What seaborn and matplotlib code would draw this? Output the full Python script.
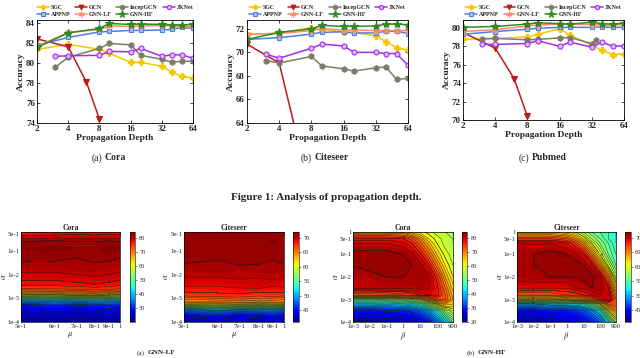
import numpy as np
import matplotlib
matplotlib.use("Agg")
import matplotlib.pyplot as plt
import seaborn as sns

sns.set_theme(style="white")
plt.rcParams["font.family"] = ["Liberation Serif", "DejaVu Serif"]
plt.rcParams["mathtext.fontset"] = "stix"
plt.rcParams["axes.edgecolor"] = "black"
plt.rcParams["axes.linewidth"] = 0.6

# ---------------- data: propagation depth ----------------
depth = [2, 4, 8, 10, 16, 20, 32, 40, 50, 64]
depth_gcn = [2, 4, 6, 8]
depth_deep = [3, 4, 8, 10, 16, 20, 32, 40, 50, 64]
depth_incep_pubmed = [3, 4, 8, 10, 16, 20, 32, 35]

methods = ["SGC", "GCN", "IncepGCN", "JKNet", "APPNP", "GNN-LF", "GNN-HF"]

cora_sgc = [81.4, 81.9, 81.4, 81.0, 80.1, 80.1, 79.7, 79.1, 78.7, 78.5]
cora_gcn = [82.45, 81.65, 78.1, 74.4]
cora_incep = [79.6, 80.6, 81.5, 82.0, 81.85, 80.8, 80.4, 80.1, 80.2, 80.2]
cora_jknet = [80.7, 80.75, 80.8, 81.2, 81.15, 81.5, 80.7, 80.85, 80.85, 80.5]
cora_appnp = [81.8, 82.6, 83.15, 83.2, 83.3, 83.3, 83.35, 83.4, 83.6, 83.5]
cora_lf = [81.7, 83.1, 83.4, 83.75, 83.7, 83.75, 83.8, 83.75, 83.7, 83.7]
cora_hf = [81.6, 83.05, 83.5, 84.0, 83.9, 83.95, 83.9, 83.85, 83.85, 83.9]

cite_sgc = [71.5, 71.65, 72.1, 72.0, 71.7, 71.7, 71.4, 70.9, 70.4, 70.2]
cite_gcn = [70.7, 69.1, 62.5, 55.0]
cite_incep = [69.3, 69.1, 69.65, 68.85, 68.6, 68.4, 68.7, 68.75, 67.7, 67.8]
cite_jknet = [69.85, 69.5, 70.35, 70.7, 70.55, 70.0, 70.0, 69.9, 69.9, 68.9]
cite_appnp = [71.1, 71.25, 71.55, 71.7, 71.75, 71.65, 71.65, 71.8, 71.8, 71.6]
cite_lf = [71.55, 71.6, 71.85, 72.0, 71.9, 71.9, 71.85, 71.85, 71.85, 71.85]
cite_hf = [71.1, 71.7, 72.0, 72.3, 72.2, 72.2, 72.25, 72.4, 72.4, 72.35]

pub_sgc = [78.75, 78.85, 79.0, 79.3, 79.9, 79.2, 78.1, 77.55, 77.1, 77.2]
pub_gcn = [79.5, 77.8, 74.5, 70.4]
pub_incep = [78.8, 78.85, 78.7, 78.75, 78.9, 78.95, 78.3, 78.7]
pub_jknet = [78.2, 78.2, 78.3, 78.6, 78.0, 78.45, 77.9, 78.45, 78.0, 78.05]
pub_appnp = [79.3, 79.6, 79.85, 79.95, 80.05, 80.05, 80.05, 80.1, 80.05, 80.05]
pub_lf = [79.6, 79.8, 80.2, 80.3, 80.4, 80.4, 80.35, 80.3, 80.3, 80.35]
pub_hf = [80.05, 80.15, 80.4, 80.55, 80.45, 80.4, 80.6, 80.45, 80.4, 80.5]

depth_ticks = [2, 4, 8, 16, 32, 64]

# ---------------- data: GNN-LF sensitivity (alpha exponent rows x mu columns) ----------------
lf_mu = [0.5, 0.6, 0.7, 0.8, 0.9, 1.0]
lf_mu_ticks = [0.5, 0.6, 0.7, 0.8, 0.9, 1.0]
lf_mu_ticklabels = ["5e-1", "6e-1", "7e-1", "8e-1", "9e-1", "1"]
lf_mu_axis_frac = [0.0, 0.34, 0.558, 0.747, 0.89, 1.0]

lf_cora_alpha_exp = [-4.0, -3.6, -3.3, -3.15, -3.05, -3.0, -2.9, -2.8, -2.7, -2.6,
                     -2.4, -2.0, -1.7, -1.3, -0.9, -0.6, -0.45, -0.3, -0.2]
lf_cora_acc = [
    [21.0, 21.0, 21.5, 21.0, 21.0, 21.5],
    [23.5, 24.5, 23.0, 24.0, 25.0, 24.0],
    [28.0, 30.0, 28.5, 29.5, 30.5, 29.0],
    [34.0, 36.0, 35.0, 37.0, 35.5, 36.0],
    [41.0, 42.0, 43.0, 44.0, 42.5, 43.0],
    [46.0, 47.0, 48.0, 49.0, 47.5, 48.0],
    [55.0, 56.0, 58.0, 59.0, 57.0, 56.0],
    [63.0, 64.0, 66.0, 67.0, 65.0, 64.0],
    [69.5, 70.0, 71.0, 72.0, 71.0, 70.0],
    [73.5, 74.0, 74.5, 75.0, 74.5, 74.0],
    [77.0, 77.0, 77.5, 78.0, 77.5, 77.0],
    [79.5, 79.5, 80.0, 80.5, 80.0, 79.5],
    [81.0, 81.0, 81.5, 81.5, 81.0, 81.0],
    [82.5, 82.5, 82.0, 82.5, 82.5, 82.0],
    [83.0, 83.2, 83.0, 82.8, 83.5, 83.0],
    [82.0, 82.5, 82.0, 82.0, 82.5, 82.0],
    [79.5, 80.0, 79.5, 80.0, 79.5, 80.0],
    [77.5, 77.5, 78.0, 77.5, 78.0, 77.5],
    [77.5, 77.5, 78.0, 77.5, 78.0, 77.5],
]

lf_cite_alpha_exp = [-4.0, -3.8, -3.6, -3.45, -3.35, -3.25, -3.15, -3.0, -2.9, -2.7,
                     -2.5, -2.2, -1.8, -1.4, -1.0, -0.6, -0.4, -0.2]
lf_cite_acc = [
    [42.0, 42.0, 42.5, 42.0, 42.0, 42.5],
    [43.0, 44.0, 43.0, 43.5, 44.0, 43.0],
    [46.0, 47.5, 46.0, 46.5, 47.0, 46.0],
    [50.0, 52.0, 51.0, 50.5, 51.0, 50.0],
    [55.0, 56.0, 56.0, 55.0, 56.0, 55.0],
    [60.0, 60.5, 61.0, 60.0, 61.0, 60.5],
    [63.5, 64.0, 64.5, 64.0, 64.5, 64.0],
    [65.5, 66.0, 66.5, 66.0, 66.0, 65.5],
    [67.0, 67.5, 67.5, 67.0, 67.5, 67.0],
    [68.2, 68.3, 68.6, 68.3, 68.2, 68.4],
    [69.0, 69.0, 69.2, 69.5, 69.0, 69.1],
    [69.8, 69.8, 70.0, 69.9, 70.1, 69.8],
    [70.6, 70.8, 70.6, 70.7, 70.9, 70.6],
    [71.2, 71.0, 71.4, 71.2, 71.0, 71.3],
    [71.3, 71.1, 71.2, 71.5, 71.2, 71.0],
    [71.5, 71.3, 71.2, 71.4, 71.6, 71.3],
    [71.2, 71.5, 71.3, 71.2, 71.4, 71.5],
    [71.0, 71.2, 71.0, 71.3, 71.1, 71.0],
]
lf_alpha_ticks = [-4, -3, -2, -1, np.log10(0.5)]
lf_alpha_ticklabels = ["1e-4", "1e-3", "1e-2", "1e-1", "5e-1"]

# ---------------- data: GNN-HF sensitivity (alpha exponent rows x beta exponent columns) ----------------
hf_beta_exp = [-3, -2, -1, 0, 0.5, 1, 1.5, 2, 2.5, np.log10(900)]
hf_beta_ticks = [-3, -2, -1, 0, 1, 2, np.log10(900)]
hf_beta_ticklabels = ["1e-3", "1e-2", "1e-1", "1", "10", "100", "900"]
hf_alpha_exp = [-4, -3.5, -3.2, -3, -2.8, -2.5, -2, -1.5, -1, -0.5, -0.3, 0]
hf_alpha_ticks = [-4, -3, -2, -1, np.log10(0.5), 0]
hf_alpha_ticklabels = ["1e-4", "1e-3", "1e-2", "1e-1", "5e-1", "1"]

hf_cora_acc = [
    [21, 21, 22, 22, 23, 25, 28, 33, 40, 48],
    [28, 28, 29, 30, 31, 33, 37, 45, 54, 58],
    [40, 40, 41, 42, 43, 46, 52, 60, 66, 64],
    [50, 50, 51, 53, 55, 58, 66, 73, 72, 66],
    [70, 70, 71, 72, 73, 76, 78, 77, 72, 65],
    [80, 80, 80.5, 80.5, 80.5, 81, 80, 77, 70, 63],
    [81, 81, 82, 82, 82, 82, 81, 75, 66, 60],
    [82, 83, 83, 83, 82, 81, 77, 69, 62, 58],
    [83, 83, 83, 82, 81, 77, 71, 64, 59, 57],
    [80, 80, 80, 79, 76, 71, 65, 60, 57, 56],
    [77, 77, 77, 76, 73, 68, 62, 59, 57, 56],
    [66, 66, 66, 65, 63, 61, 59, 57, 56, 55],
]
hf_cite_acc = [
    [42, 42, 42, 43, 43, 44, 45, 47, 52, 58],
    [44, 44, 45, 45, 46, 47, 49, 52, 60, 64],
    [50, 50, 51, 52, 52, 53, 56, 60, 66, 67],
    [60, 60, 60, 61, 62, 63, 65, 68, 70, 66],
    [66, 66, 66, 67, 67, 68, 69, 70, 70, 64],
    [69, 69, 69, 69, 70, 70, 71, 71, 69, 62],
    [70.5, 71, 71, 71, 71, 71.5, 71.5, 70, 65, 58],
    [71, 71, 71.5, 71.5, 71.5, 71, 69.5, 65, 59, 55],
    [71, 71, 71.5, 71, 70.5, 69, 65, 60, 56, 54],
    [70, 70, 70, 69, 67, 64, 60, 57, 55, 53],
    [67, 67, 67, 66, 64, 61, 58, 56, 54, 53],
    [62, 62, 62, 61, 60, 58, 56, 55, 54, 53],
]

# ---------------- styles ----------------
styles = {
    "SGC": dict(color="#F5C800", marker="P", mfc="#F5C800", mec="#F5C800", ms=4),
    "GCN": dict(color="#C01818", marker="v", mfc="#C01818", mec="#C01818", ms=4),
    "IncepGCN": dict(color="#7C7C68", marker="h", mfc="#7C7C68", mec="#7C7C68", ms=4),
    "JKNet": dict(color="#A030E8", marker="o", mfc="#E4B8FF", mec="#A030E8", ms=3.6),
    "APPNP": dict(color="#4C7FE0", marker="s", mfc="#A8C2F4", mec="#4C7FE0", ms=3.4),
    "GNN-LF": dict(color="#FF8A6A", marker=(6, 2, 0), mfc="#FF8A6A", mec="#FF8A6A", ms=5),
    "GNN-HF": dict(color="#2E8B22", marker="*", mfc="#2E8B22", mec="#2E8B22", ms=6),
}

W, H = 640, 358
fig = plt.figure(figsize=(W / 100, H / 100), dpi=100)


def px(l, t, r, b):
    return [l / W, 1 - b / H, (r - l) / W, (b - t) / H]


def line_panel(rect, series, ylim, yticks):
    ax = fig.add_axes(px(*rect))
    for name, xs, ys in series:
        st = styles[name]
        sns.lineplot(x=xs, y=ys, ax=ax, color=st["color"], marker=st["marker"],
                     markersize=st["ms"], markerfacecolor=st["mfc"],
                     markeredgecolor=st["mec"], markeredgewidth=0.8,
                     linewidth=1.1, label=name, estimator=None, sort=False)
    ax.set_xscale("log", base=2)
    ax.set_xlim(2, 64)
    ax.set_xticks(depth_ticks)
    ax.set_xticklabels([str(d) for d in depth_ticks])
    ax.xaxis.set_minor_locator(matplotlib.ticker.NullLocator())
    ax.set_ylim(*ylim)
    ax.set_yticks(yticks)
    ax.set_yticklabels([str(v) for v in yticks])
    ax.tick_params(direction="in", length=2.5, width=0.6, labelsize=6.5, pad=1.5,
                   top=True, right=True, bottom=True, left=True)
    for lab in ax.get_xticklabels() + ax.get_yticklabels():
        lab.set_fontweight("bold")
    ax.set_xlabel("Propagation Depth", fontsize=6.8, fontweight="bold", labelpad=1)
    ax.set_ylabel("Accuracy", fontsize=6.8, fontweight="bold", labelpad=1)
    h, l = ax.get_legend_handles_labels()
    order = [0, 4, 1, 5, 2, 6, 3]
    ax.legend([h[i] for i in order], [l[i] for i in order], loc="lower center",
              bbox_to_anchor=(0.5, 1.0), ncol=4, frameon=False,
              prop={"weight": "bold", "size": 4.3}, handlelength=2.0,
              columnspacing=0.8, handletextpad=0.3, labelspacing=0.25,
              borderaxespad=0.4, borderpad=0.1, markerscale=0.85)
    return ax


line_panel((37, 20, 193, 123),
           [("SGC", depth, cora_sgc), ("GCN", depth_gcn, cora_gcn),
            ("IncepGCN", depth_deep, cora_incep), ("JKNet", depth_deep, cora_jknet),
            ("APPNP", depth, cora_appnp), ("GNN-LF", depth, cora_lf),
            ("GNN-HF", depth, cora_hf)],
           (74, 84.35), [74, 76, 78, 80, 82, 84])
line_panel((247, 20, 408, 123),
           [("SGC", depth, cite_sgc), ("GCN", depth_gcn, cite_gcn),
            ("IncepGCN", depth_deep, cite_incep), ("JKNet", depth_deep, cite_jknet),
            ("APPNP", depth, cite_appnp), ("GNN-LF", depth, cite_lf),
            ("GNN-HF", depth, cite_hf)],
           (64, 72.75), [64, 66, 68, 70, 72])
line_panel((463, 20, 624, 120),
           [("SGC", depth, pub_sgc), ("GCN", depth_gcn, pub_gcn),
            ("IncepGCN", depth_incep_pubmed, pub_incep), ("JKNet", depth_deep, pub_jknet),
            ("APPNP", depth, pub_appnp), ("GNN-LF", depth, pub_lf),
            ("GNN-HF", depth, pub_hf)],
           (70, 80.85), [70, 72, 74, 76, 78, 80])


def split_caption(xsplit, y, tag, name, size):
    fig.text(xsplit / W, 1 - y / H, tag, ha="right", va="center", fontsize=size)
    fig.text((xsplit + 2.5) / W, 1 - y / H, name, ha="left", va="center",
             fontsize=size, fontweight="bold")


split_caption(102, 158, "(a)", "Cora", 7)
split_caption(312, 158, "(b)", "Citeseer", 7)
split_caption(529, 158, "(c)", "Pubmed", 7)
fig.text(326 / W, 1 - 197 / H, "Figure 1: Analysis of propagation depth.",
         ha="center", va="center", fontsize=8, fontweight="bold")


def contour_panel(rect, crect, xs, ys, Z, vmin, vmax, cticks, title, xlabel,
                  xticks, xticklabels, yticks, yticklabels, xlim, ylim,
                  xfuncs=None, line_step=2.0, label_levels=()):
    ax = fig.add_axes(px(*rect))
    if xfuncs is not None:
        ax.set_xscale("function", functions=xfuncs)
    X, Y = np.meshgrid(np.array(xs, float), np.array(ys, float))
    Zarr = np.array(Z, float)
    levels = np.linspace(vmin, vmax, 65)
    cf = ax.contourf(X, Y, Zarr, levels=levels, cmap="jet")
    ax.contour(X, Y, Zarr, levels=np.arange(vmin + line_step, vmax, line_step),
               colors="k", linewidths=0.3)
    cs2 = ax.contour(X, Y, Zarr, levels=list(label_levels), colors="k", linewidths=0.3)
    ax.clabel(cs2, fontsize=2.4, fmt="%g", inline=True, inline_spacing=1)
    ax.set_xlim(*xlim)
    ax.set_ylim(*ylim)
    ax.set_xticks(xticks)
    ax.set_xticklabels(xticklabels)
    ax.set_yticks(yticks)
    ax.set_yticklabels(yticklabels)
    ax.xaxis.set_minor_locator(matplotlib.ticker.NullLocator())
    ax.tick_params(direction="in", length=2, width=0.4, labelsize=4.9, pad=1.2,
                   top=True, right=True)
    for s in ax.spines.values():
        s.set_linewidth(0.5)
    ax.set_title(title, fontsize=5.5, fontweight="bold", pad=1.5)
    ax.set_xlabel(xlabel, fontsize=6, labelpad=1)
    ax.set_ylabel(r"$\alpha$", fontsize=6)
    ax.yaxis.set_label_coords(-0.135, 0.5)
    cax = fig.add_axes(px(*crect))
    cb = fig.colorbar(cf, cax=cax, ticks=cticks)
    cb.ax.tick_params(labelsize=4.5, length=1.5, width=0.4, pad=1.5)
    cb.outline.set_linewidth(0.4)
    return ax


def mu_fwd(v):
    return np.interp(v, lf_mu_ticks, lf_mu_axis_frac)


def mu_inv(v):
    return np.interp(v, lf_mu_axis_frac, lf_mu_ticks)


contour_panel((21, 232, 120, 322), (130, 232, 135, 322), lf_mu, lf_cora_alpha_exp,
              lf_cora_acc, 20, 84, [30, 40, 50, 60, 70, 80], "Cora", r"$\mu$",
              lf_mu_ticks, lf_mu_ticklabels, lf_alpha_ticks, lf_alpha_ticklabels,
              (0.5, 1.0), (-4, -0.2), xfuncs=(mu_fwd, mu_inv), line_step=2.0,
              label_levels=(30, 60, 78, 82))
contour_panel((184, 232, 284, 322), (293, 232, 299, 322), lf_mu, lf_cite_alpha_exp,
              lf_cite_acc, 41, 72, [45, 50, 55, 60, 65, 70], "Citeseer", r"$\mu$",
              lf_mu_ticks, lf_mu_ticklabels, lf_alpha_ticks, lf_alpha_ticklabels,
              (0.5, 1.0), (-4, -0.2), xfuncs=(mu_fwd, mu_inv), line_step=1.0,
              label_levels=(50, 68, 71))
contour_panel((353, 232, 453, 322), (462, 232, 467, 322), hf_beta_exp, hf_alpha_exp,
              hf_cora_acc, 20, 84, [20, 30, 40, 50, 60, 70, 80], "Cora", r"$\beta$",
              hf_beta_ticks, hf_beta_ticklabels, hf_alpha_ticks, hf_alpha_ticklabels,
              (-3, np.log10(900)), (-4, 0), line_step=2.0,
              label_levels=(30, 60, 76, 82))
contour_panel((517, 232, 616, 322), (625, 232, 631, 322), hf_beta_exp, hf_alpha_exp,
              hf_cite_acc, 41, 72, [45, 50, 55, 60, 65, 70], "Citeseer", r"$\beta$",
              hf_beta_ticks, hf_beta_ticklabels, hf_alpha_ticks, hf_alpha_ticklabels,
              (-3, np.log10(900)), (-4, 0), line_step=1.0,
              label_levels=(50, 60, 68, 71))

split_caption(145, 353, "(a)", "GNN-LF", 5.2)
split_caption(475, 353, "(b)", "GNN-HF", 5.2)

fig.savefig("out.png", dpi=100)
